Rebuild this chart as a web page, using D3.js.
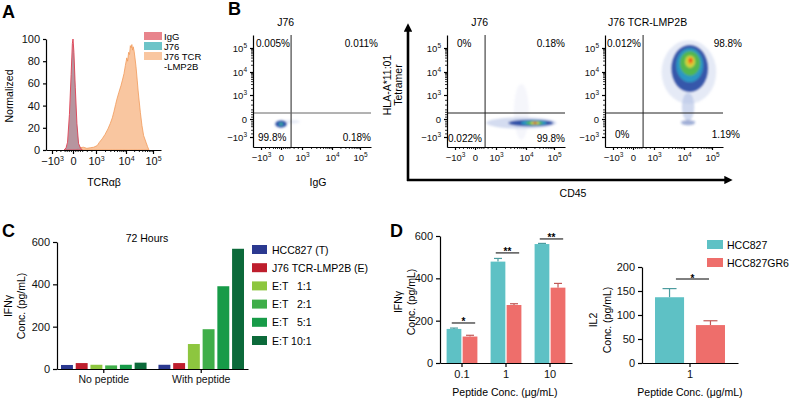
<!DOCTYPE html>
<html>
<head>
<meta charset="utf-8">
<script src="https://cdn.jsdelivr.net/npm/d3@7"></script>
<style>
  body { margin: 0; background: #fff; }
  svg { display: block; font-family: "Liberation Sans", Arial, Helvetica, sans-serif; }
</style>
</head>
<body>
<script>
// ---------- data ----------
// A: histogram (fluorescence, % of max)
const histLabels = ["IgG", "J76", "J76 TCR", "-LMP2B"];
const histIgG = [[-420, 0], [-330, 2], [-260, 7], [-170, 32], [-90, 68], [-30, 96], [0, 100], [40, 88], [100, 56], [170, 24], [240, 6], [320, 2], [400, 0]];
const histJ76 = [[-360, 0], [-250, 6], [-150, 33], [-60, 80], [0, 98], [60, 78], [150, 28], [250, 5], [350, 0]];
const histTCR = [[100, 0], [180, 1], [300, 2], [450, 2.5], [600, 1.5], [750, 2], [900, 2.5], [1100, 4], [1300, 7],
  [1600, 10], [2000, 14], [2500, 19], [3000, 24], [3500, 29], [4000, 35], [4500, 41], [5000, 46], [5800, 52],
  [6800, 58], [7600, 63], [8600, 69], [9500, 76], [10700, 83], [11500, 80], [12500, 88], [13500, 86],
  [14500, 94], [15500, 92], [16500, 95], [17500, 90], [18500, 93], [20000, 89], [21500, 83], [23500, 75],
  [26000, 63], [28000, 54], [30500, 45], [34000, 34], [39000, 22], [45000, 13], [55000, 7], [63000, 3], [71000, 0]];
const histTicks = [0, 20, 40, 60, 80, 100];

// B: flow plots
const flowTitles = ["J76", "J76", "J76 TCR-LMP2B"];
const flowQuads = [
  ["0.005%", "0.011%", "99.8%", "0.18%"],
  ["0%", "0.18%", "0.022%", "99.8%"],
  ["0.012%", "98.8%", "0%", "1.19%"]
];
const gateX = 480, gateY = 250;
const flowMajor = [-1000, 0, 1000, 10000, 100000];
const flowMinor = [-800, -600, -400, -300, -200, -100, 100, 200, 300, 400, 600, 800,
  2000, 3000, 4000, 5000, 6000, 7000, 8000, 9000, 20000, 30000, 40000, 50000, 60000, 70000, 80000, 90000];
// density blobs: [x, y, half-width (decades), half-height (decades), colour level, opacity]
const blobsIgG = [[400, -150, 0.5, 0.1, 0, 0.3], [0, -280, 0.28, 0.2, 1, 1], [0, -280, 0.12, 0.09, 2, 1], [0, -280, 0.05, 0.05, 3, 1]];
const blobsJ76 = [[7000, 300, 0.25, 1.3, 0, 0.12], [7000, -220, 1.27, 0.3, 0, 0.5], [15000, -220, 0.78, 0.18, 1, 1],
  [19000, -220, 0.45, 0.13, 2, 1], [20000, -220, 0.3, 0.1, 3, 1], [21000, -220, 0.16, 0.07, 4, 1], [21000, -220, 0.07, 0.05, 6, 0.8]];
const blobsTCR = [[15000, 10000, 0.95, 1.35, 0, 0.3], [14000, 500, 0.22, 0.6, 0, 0.55], [14000, -200, 0.25, 0.15, 1, 0.45],
  [16000, 14000, 0.64, 1.0, 1, 0.95], [16000, 19000, 0.47, 0.72, 2, 0.9], [16500, 23000, 0.36, 0.52, 3, 0.95],
  [16500, 27000, 0.18, 0.26, 4, 0.9], [17000, 29000, 0.1, 0.15, 5, 0.9], [17400, 31000, 0.05, 0.08, 6, 0.9]];
const flowBlobs = [blobsIgG, blobsJ76, blobsTCR];
const densityColors = ["#a9b9e2", "#2f4fa6", "#2a9ec6", "#55b84a", "#d9d93c", "#f29a26", "#e2261c"];

// C: IFNγ, 72 hours
const groupsC = ["No peptide", "With peptide"];
const seriesC = ["HCC827 (T)", "J76 TCR-LMP2B (E)", "E:T   1:1", "E:T   2:1", "E:T   5:1", "E:T 10:1"];
const noPeptide = [19, 28, 20, 17, 20, 30];
const withPeptide = [20, 28, 118, 188, 391, 568];
const colorsC = ["#2b3990", "#be1e2d", "#8dc63f", "#3fae49", "#179b48", "#0c6a3a"];
const ticksC = [0, 200, 400, 600];

// D: IFNγ and IL2
const cellLines = ["HCC827", "HCC827GR6"];
const concD = ["0.1", "1", "10"];
const ifnHCC = [161, 479, 562];
const ifnHCCErr = [4, 15, 3];
const ifnGR6 = [125, 274, 356];
const ifnGR6Err = [6, 6, 20];
const ifnSig = ["*", "**", "**"];
const ifnSigLevel = [189, 520, 586];
const ticksIfn = [0, 200, 400, 600];
const concIL2 = ["1"];
const il2HCC = [137];
const il2HCCErr = [18];
const il2GR6 = [79];
const il2GR6Err = [9];
const il2Sig = ["*"];
const il2SigLevel = [175];
const ticksIL2 = [0, 50, 100, 150, 200];
const colorsD = ["#5ec1c5", "#ee6e6b"];

// ---------- helpers ----------
const svg = d3.select("body").append("svg")
  .attr("width", 790).attr("height", 399)
  .style("font-size", "10.5px");

const defs = svg.append("defs");
defs.append("filter").attr("id", "soft")
  .attr("x", "-50%").attr("y", "-50%").attr("width", "200%").attr("height", "200%")
  .append("feGaussianBlur").attr("stdDeviation", 1.1);
defs.append("marker").attr("id", "arrow")
  .attr("viewBox", "0 0 10 10").attr("refX", 2).attr("refY", 5)
  .attr("markerWidth", 3.2).attr("markerHeight", 3.2).attr("orient", "auto")
  .append("path").attr("d", "M0,0L10,5L0,10z").attr("fill", "#000");

// biexponential-ish display transform: linear within ±10³, log beyond
function biex(v) {
  const a = Math.abs(v);
  return a <= 1000 ? v / 1000 : Math.sign(v) * (Math.log10(a) - 2);
}

function styleAxis(g, size) {
  g.attr("font-family", null).attr("font-size", size);
  g.selectAll(".domain, .tick line").attr("stroke", "#000").attr("stroke-width", 1.2);
  g.selectAll(".tick text").attr("fill", "#111");
}

// "10" with superscript exponent
function expLabel(sel, u, supSize) {
  sel.text(null);
  if (u === 0) { sel.text("0"); return; }
  sel.append("tspan").text(u < 0 ? "\u221210" : "10");
  sel.append("tspan").attr("dy", -4).attr("font-size", supSize).text(Math.abs(u) + 2);
}

function letter(t, x, y) {
  svg.append("text").attr("x", x).attr("y", y)
    .attr("font-size", 18).attr("font-weight", "bold").text(t);
}

function vLabel(lines, x, y, step) {
  lines.forEach((t, i) => {
    svg.append("text")
      .attr("transform", `translate(${x + i * step},${y}) rotate(-90)`)
      .attr("text-anchor", "middle").attr("dominant-baseline", "central")
      .text(t);
  });
}

// ---------- A ----------
letter("A", 2, 18);
const xA = d3.scaleLinear().domain([-1.3, -1, 0, 1, 2, 3, 3.3]).range([46, 52, 73, 96, 126, 153, 161]);
const yA = d3.scaleLinear().domain([0, 100]).range([150, 39]);
const areaA = d3.area().x(d => xA(biex(d[0]))).y0(yA(0)).y1(d => yA(d[1]));
svg.append("path").datum(histTCR).attr("d", areaA)
  .attr("fill", "#f9c6a0").attr("stroke", "#f19a5a").attr("stroke-width", 0.8);
svg.append("path").datum(histJ76).attr("d", areaA)
  .attr("fill", "#6cc4c8").attr("fill-opacity", 0.85);
svg.append("path").datum(histIgG).attr("d", areaA)
  .attr("fill", "#d9707e").attr("fill-opacity", 0.6)
  .attr("stroke", "#dc3f52").attr("stroke-width", 0.9);

const yAxisA = svg.append("g").attr("transform", "translate(46,0)")
  .call(d3.axisLeft(yA).tickValues(histTicks).tickSize(3).tickSizeOuter(0).tickPadding(3));
styleAxis(yAxisA, 11);
const xAxisA = svg.append("g").attr("transform", "translate(0,150)")
  .call(d3.axisBottom(xA).tickValues(flowMajor.map(biex)).tickSize(4).tickSizeOuter(0).tickPadding(3));
styleAxis(xAxisA, 11);
xAxisA.selectAll(".tick text").each(function (d) { expLabel(d3.select(this), d, "7px"); });
const xMinorA = svg.append("g").attr("transform", "translate(0,150)")
  .call(d3.axisBottom(xA).tickValues(flowMinor.map(biex)).tickSize(2).tickFormat(() => ""));
xMinorA.select(".domain").remove();
xMinorA.selectAll(".tick line").attr("stroke", "#000").attr("stroke-width", 0.9);

svg.append("text").attr("x", 104).attr("y", 186).attr("text-anchor", "middle").text("TCR\u03b1\u03b2");
vLabel(["Normalized"], 9, 96, 0);

const legA = svg.append("g").attr("font-size", 9.5);
["#e8848c", "#6cc4c8", "#f9c6a0"].forEach((c, i) => {
  legA.append("rect").attr("x", 144).attr("y", 32 + i * 10).attr("width", 18).attr("height", 8).attr("fill", c);
});
histLabels.forEach((t, i) => {
  legA.append("text").attr("x", 164).attr("y", 39.5 + i * 10).text(t);
});

// ---------- B ----------
letter("B", 228, 15);
const flowAxisX = [253, 447, 605];
const quadX = [[3, 125, 5, 118], [10, 118, 1, 118], [2, 137, 10, 135]];
const quadBottomY = [141, 142, 138];

flowAxisX.forEach((ax, i) => {
  const fx = d3.scaleLinear().domain([-1.4, -1, 0, 1, 2, 3, 3.4]).range([0, 8, 28, 49, 79, 107, 118].map(d => d + ax));
  const fy = d3.scaleLinear().domain([-1.55, -1, 0, 1, 2, 3, 3.55]).range([147, 137, 119, 95, 72, 48, 35]);
  const g = svg.append("g");

  const blobs = g.append("g").attr("filter", "url(#soft)");
  flowBlobs[i].forEach(b => {
    const ux = biex(b[0]), uy = biex(b[1]);
    blobs.append("ellipse")
      .attr("cx", fx(ux)).attr("cy", fy(uy))
      .attr("rx", (fx(ux + b[2]) - fx(ux - b[2])) / 2)
      .attr("ry", (fy(uy - b[3]) - fy(uy + b[3])) / 2)
      .attr("fill", densityColors[b[4]])
      .attr("opacity", b[5]);
  });

  // gates
  g.append("line").attr("x1", fx(biex(gateX))).attr("x2", fx(biex(gateX)))
    .attr("y1", 35).attr("y2", 147).attr("stroke", "#222").attr("stroke-width", 1);
  g.append("line").attr("x1", ax).attr("x2", ax + 118)
    .attr("y1", fy(biex(gateY))).attr("y2", fy(biex(gateY)))
    .attr("stroke", i === 0 ? "#666" : "#222").attr("stroke-width", 1);

  // axes
  const ya = g.append("g").attr("transform", `translate(${ax},0)`)
    .call(d3.axisLeft(fy).tickValues(flowMajor.map(biex)).tickSize(3).tickSizeOuter(0).tickPadding(3));
  styleAxis(ya, 9.5);
  ya.selectAll(".tick text").each(function (d) { expLabel(d3.select(this), d, "6.5px"); });
  const yMinor = g.append("g").attr("transform", `translate(${ax},0)`)
    .call(d3.axisLeft(fy).tickValues(flowMinor.map(biex)).tickSize(2).tickFormat(() => ""));
  yMinor.select(".domain").remove();
  yMinor.selectAll(".tick line").attr("stroke", "#000").attr("stroke-width", 0.8);

  const xa = g.append("g").attr("transform", "translate(0,147)")
    .call(d3.axisBottom(fx).tickValues(flowMajor.map(biex)).tickSize(3).tickSizeOuter(0).tickPadding(4));
  styleAxis(xa, 9.5);
  xa.selectAll(".tick text").each(function (d) { expLabel(d3.select(this), d, "6.5px"); });
  const xMinor = g.append("g").attr("transform", "translate(0,147)")
    .call(d3.axisBottom(fx).tickValues(flowMinor.map(biex)).tickSize(2).tickFormat(() => ""));
  xMinor.select(".domain").remove();
  xMinor.selectAll(".tick line").attr("stroke", "#000").attr("stroke-width", 0.8);

  // quadrant labels
  const q = flowQuads[i], qx = quadX[i];
  g.append("text").attr("x", ax + qx[0]).attr("y", 47).attr("font-size", 10).text(q[0]);
  g.append("text").attr("x", ax + qx[1]).attr("y", 47).attr("font-size", 10).attr("text-anchor", "end").text(q[1]);
  g.append("text").attr("x", ax + qx[2]).attr("y", quadBottomY[i]).attr("font-size", 10).text(q[2]);
  g.append("text").attr("x", ax + qx[3]).attr("y", quadBottomY[i]).attr("font-size", 10).attr("text-anchor", "end").text(q[3]);

  // title
  g.append("text").attr("x", fx(biex(600)) - (i === 2 ? -2 : 8)).attr("y", 26)
    .attr("text-anchor", "middle").text(flowTitles[i]);
});

svg.append("text").attr("x", 318).attr("y", 186).attr("text-anchor", "middle").text("IgG");
vLabel(["HLA-A*11:01", "Tetramer"], 387, 85, 11);
svg.append("path").attr("d", "M408,181V30").attr("stroke", "#000").attr("stroke-width", 2.6)
  .attr("fill", "none").attr("marker-end", "url(#arrow)");
svg.append("path").attr("d", "M407,180H726").attr("stroke", "#000").attr("stroke-width", 2.6)
  .attr("fill", "none").attr("marker-end", "url(#arrow)");
svg.append("text").attr("x", 573).attr("y", 197).attr("text-anchor", "middle").text("CD45");

// ---------- C ----------
letter("C", 2, 237);
const x0C = d3.scaleBand().domain(groupsC).range([57, 248]).paddingInner(0.122).paddingOuter(0.041);
const x1C = d3.scaleBand().domain(seriesC).range([0, x0C.bandwidth()]).paddingInner(0.19);
const yC = d3.scaleLinear().domain([0, 600]).range([369, 242]);
const valuesC = [noPeptide, withPeptide];
groupsC.forEach((grp, gi) => {
  svg.append("g").attr("transform", `translate(${x0C(grp)},0)`)
    .selectAll("rect").data(valuesC[gi]).join("rect")
    .attr("x", (d, i) => x1C(seriesC[i])).attr("width", x1C.bandwidth())
    .attr("y", d => yC(d)).attr("height", d => yC(0) - yC(d))
    .attr("fill", (d, i) => colorsC[i]);
});
const yAxisC = svg.append("g").attr("transform", "translate(57,0)")
  .call(d3.axisLeft(yC).tickValues(ticksC).tickSize(4).tickSizeOuter(0).tickPadding(3));
styleAxis(yAxisC, 11);
const xAxisC = svg.append("g").attr("transform", "translate(0,369)")
  .call(d3.axisBottom(x0C).tickSize(4).tickSizeOuter(0).tickPadding(3));
styleAxis(xAxisC, 10.5);
svg.append("text").attr("x", 147).attr("y", 242).attr("text-anchor", "middle").text("72 Hours");
vLabel(["IFN\u03b3", "Conc. (pg/mL)"], 8, 306, 13);

const legC = svg.append("g").attr("transform", "translate(252,245)");
seriesC.forEach((s, i) => {
  legC.append("rect").attr("x", 0).attr("y", i * 18.2).attr("width", 15).attr("height", 9).attr("fill", colorsC[i]);
  legC.append("text").attr("x", 20).attr("y", i * 18.2 + 8.5).style("white-space", "pre").text(s);
});

// ---------- D ----------
letter("D", 390, 237);

function groupedBars(opts) {
  const x0 = d3.scaleBand().domain(opts.groups).range(opts.xRange).paddingInner(opts.padIn).paddingOuter(opts.padOut);
  const x1 = d3.scaleBand().domain(cellLines).range([0, x0.bandwidth()]).paddingInner(opts.barPad);
  const y = d3.scaleLinear().domain([0, opts.max]).range(opts.yRange);
  const series = [opts.a, opts.b], errs = [opts.aErr, opts.bErr];
  const w = x1.bandwidth();
  opts.groups.forEach((grp, gi) => {
    const g = svg.append("g").attr("transform", `translate(${x0(grp)},0)`);
    cellLines.forEach((cl, si) => {
      const v = series[si][gi], e = errs[si][gi];
      const cx = x1(cl) + w / 2;
      const ec = d3.color(colorsD[si]).darker(0.6);
      g.append("line").attr("x1", cx).attr("x2", cx).attr("y1", y(v)).attr("y2", y(v + e))
        .attr("stroke", ec).attr("stroke-width", 1.2);
      g.append("line").attr("x1", cx - opts.cap).attr("x2", cx + opts.cap).attr("y1", y(v + e)).attr("y2", y(v + e))
        .attr("stroke", ec).attr("stroke-width", 1.2);
      g.append("rect").attr("x", x1(cl)).attr("width", w)
        .attr("y", y(v)).attr("height", y(0) - y(v)).attr("fill", colorsD[si]);
    });
    // significance bracket
    const lx0 = x1(cellLines[0]) + w * opts.sigFrom;
    const lx1 = x1(cellLines[1]) + w * opts.sigTo;
    g.append("line").attr("x1", lx0).attr("x2", lx1)
      .attr("y1", y(opts.sigLevel[gi])).attr("y2", y(opts.sigLevel[gi]))
      .attr("stroke", "#000").attr("stroke-width", 1);
    g.append("text").attr("x", (lx0 + lx1) / 2).attr("y", y(opts.sigLevel[gi]) + 2.5)
      .attr("text-anchor", "middle").attr("font-size", 10).attr("font-weight", "bold").text(opts.sig[gi]);
  });
  const ya = svg.append("g").attr("transform", `translate(${opts.xRange[0]},0)`)
    .call(d3.axisLeft(y).tickValues(opts.ticks).tickSize(4).tickSizeOuter(0).tickPadding(3));
  styleAxis(ya, 11);
  const xa = svg.append("g").attr("transform", `translate(0,${opts.yRange[0]})`)
    .call(d3.axisBottom(x0).tickSize(4).tickSizeOuter(0).tickPadding(3));
  styleAxis(xa, 11);
  svg.append("text").attr("x", (opts.xRange[0] + opts.xRange[1]) / 2 + opts.titleShift).attr("y", 396)
    .attr("text-anchor", "middle").text("Peptide Conc. (\u03bcg/mL)");
}

groupedBars({
  groups: concD, xRange: [440, 572], padIn: 0.3, padOut: 0.15, barPad: 0.08,
  yRange: [363, 236], max: 600, ticks: ticksIfn,
  a: ifnHCC, aErr: ifnHCCErr, b: ifnGR6, bErr: ifnGR6Err,
  sig: ifnSig, sigLevel: ifnSigLevel, sigFrom: 0.35, sigTo: 0.85, cap: 4, titleShift: -1
});
vLabel(["IFN\u03b3", "Conc. (pg/mL)"], 398, 302, 13);

groupedBars({
  groups: concIL2, xRange: [642, 738], padIn: 0, padOut: 0.186, barPad: 0.29,
  yRange: [363, 267], max: 200, ticks: ticksIL2,
  a: il2HCC, aErr: il2HCCErr, b: il2GR6, bErr: il2GR6Err,
  sig: il2Sig, sigLevel: il2SigLevel, sigFrom: 0.72, sigTo: 0.45, cap: 7, titleShift: 0
});
vLabel(["IL2", "Conc. (pg/mL)"], 593, 320, 14);

const legD = svg.append("g").attr("transform", "translate(707,240)");
cellLines.forEach((c, i) => {
  legD.append("rect").attr("x", 0).attr("y", i * 18).attr("width", 16).attr("height", 9).attr("fill", colorsD[i]);
  legD.append("text").attr("x", 20).attr("y", i * 18 + 8.5).text(c);
});
</script>
</body>
</html>
